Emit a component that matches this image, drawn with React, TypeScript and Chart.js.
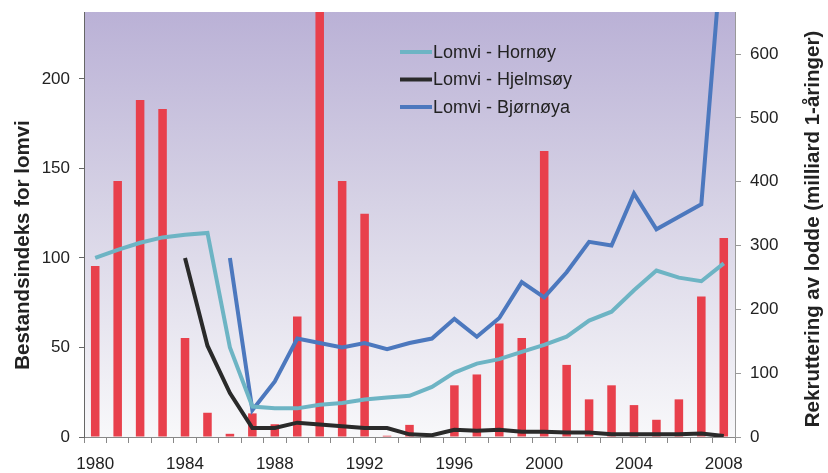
import React, { useEffect, useRef } from 'react';
import { Chart, registerables } from 'chart.js';

Chart.register(...registerables);

const years = ['1980','1981','1982','1983','1984','1985','1986','1987','1988','1989','1990','1991','1992','1993','1994','1995','1996','1997','1998','1999','2000','2001','2002','2003','2004','2005','2006','2007','2008'];
const recruitment = [268, 401, 528, 514, 155, 38, 5, 37, 20, 189, 700, 401, 350, 2, 19, 0, 81, 98, 178, 155, 448, 113, 59, 81, 50, 27, 59, 220, 312];
const hornoy = [100, 104.5, 108.5, 111.5, 113, 114, 50, 17, 16, 16, 18, 19, 21, 22, 23, 28, 36, 41, 43.5, 47.5, 51.5, 56, 65, 70, 82, 93, 89, 87, 97];
const hjelmsoy = [null, null, null, null, 100, 51, 24.5, 5, 5, 8, 7, 6, 5, 5, 1.5, 1, 4, 3.5, 4, 3, 3, 2.5, 2.5, 1.5, 1.5, 1.5, 1.5, 2, 0.5];
const bjornoya = [null, null, null, null, null, null, 100, 15, 31, 55, 52.5, 50, 52.5, 49, 52.5, 55, 66, 56, 66.5, 86.5, 78, 92, 109, 107, 136, 116, 123, 130, 285];
const leftTicks = [0, 50, 100, 150, 200];
const rightTicks = [0, 100, 200, 300, 400, 500, 600];
const leftTitle = 'Bestandsindeks for lomvi';
const rightTitle = 'Rekruttering av lodde (milliard 1-åringer)';
const seriesNames = ['Lomvi - Hornøy', 'Lomvi - Hjelmsøy', 'Lomvi - Bjørnøya'];

const FONT = '"Liberation Sans", Arial, sans-serif';

const decor = {
  id: 'decor',
  beforeDraw(chart: any) {
    const { ctx, chartArea: a } = chart;
    ctx.save();
    const g = ctx.createLinearGradient(0, a.top, 0, a.bottom);
    g.addColorStop(0, '#BAB1D6');
    g.addColorStop(0.45, '#D6D2E5');
    g.addColorStop(1, '#F8F8FA');
    ctx.fillStyle = g;
    ctx.fillRect(a.left, a.top, a.right - a.left, a.bottom - a.top);
    ctx.restore();
  },
  afterDraw(chart: any) {
    const { ctx } = chart;
    ctx.save();
    // legend
    const lineDs = chart.data.datasets.filter((d: any) => d.type === 'line');
    ctx.font = `18px ${FONT}`;
    ctx.textBaseline = 'middle';
    ctx.textAlign = 'left';
    lineDs.forEach((d: any, i: number) => {
      const y = 52 + i * 27.5;
      ctx.strokeStyle = d.borderColor;
      ctx.lineWidth = 4;
      ctx.beginPath();
      ctx.moveTo(400, y);
      ctx.lineTo(432, y);
      ctx.stroke();
      ctx.fillStyle = '#222';
      ctx.fillText(d.label, 433, y + 1);
    });
    // axis titles
    ctx.font = `bold 20.5px ${FONT}`;
    ctx.fillStyle = '#222';
    ctx.textAlign = 'center';
    ctx.textBaseline = 'middle';
    ctx.save();
    ctx.translate(23, 245);
    ctx.rotate(-Math.PI / 2);
    ctx.fillText(leftTitle, 0, 0);
    ctx.restore();
    ctx.save();
    ctx.translate(813, 229);
    ctx.rotate(-Math.PI / 2);
    ctx.fillText(rightTitle, 0, 0);
    ctx.restore();
    ctx.restore();
  },
};

export default function App() {
  const ref = useRef<HTMLCanvasElement>(null);
  useEffect(() => {
    if (!ref.current) return;
    const tickFont = { family: FONT, size: 17 };
    const chart = new Chart(ref.current, {
      type: 'bar',
      data: {
        labels: years,
        datasets: [
          { type: 'line', label: seriesNames[0], data: hornoy, borderColor: '#6DB4C4', borderWidth: 4, pointRadius: 0, yAxisID: 'y', order: 0, tension: 0 } as any,
          { type: 'line', label: seriesNames[1], data: hjelmsoy, borderColor: '#2A2A2A', borderWidth: 4, pointRadius: 0, yAxisID: 'y', order: 0, tension: 0 } as any,
          { type: 'line', label: seriesNames[2], data: bjornoya, borderColor: '#4C78BE', borderWidth: 4, pointRadius: 0, yAxisID: 'y', order: 0, tension: 0 } as any,
          { type: 'bar', label: 'Rekruttering', data: recruitment, backgroundColor: '#E8404C', yAxisID: 'y1', order: 1, barPercentage: 0.38, categoryPercentage: 1 } as any,
        ],
      },
      options: {
        responsive: false,
        animation: false,
        layout: { padding: { top: 12, left: 0, right: 0, bottom: 0 } },
        plugins: { legend: { display: false }, tooltip: { enabled: false } },
        scales: {
          x: {
            offset: true,
            grid: { display: true, drawOnChartArea: false, drawTicks: true, tickLength: 6, offset: true, color: '#888' },
            border: { display: true, color: '#888', width: 1 },
            ticks: {
              autoSkip: false, maxRotation: 0, minRotation: 0, padding: 11, color: '#222', font: tickFont,
              callback: (_v: any, i: number) => (i % 4 === 0 ? years[i] : ''),
            },
            afterFit: (s: any) => { s.height = 36; s.paddingLeft = 0; s.paddingRight = 0; },
          },
          y: {
            position: 'left',
            min: 0, max: 237.4,
            grid: { display: true, drawOnChartArea: false, drawTicks: true, tickLength: 5, color: '#666' },
            border: { display: true, color: '#666', width: 1 },
            ticks: { color: '#222', font: tickFont, padding: 9, stepSize: 50 },
            afterBuildTicks: (s: any) => { s.ticks = leftTicks.map((v) => ({ value: v })); },
            afterFit: (s: any) => { s.width = 84; s.paddingTop = 0; s.paddingBottom = 0; },
          },
          y1: {
            position: 'right',
            min: 0, max: 666,
            grid: { display: true, drawOnChartArea: false, drawTicks: true, tickLength: 6, color: '#999' },
            border: { display: true, color: '#999', width: 1 },
            ticks: { color: '#222', font: tickFont, padding: 9, stepSize: 100 },
            afterBuildTicks: (s: any) => { s.ticks = rightTicks.map((v) => ({ value: v })); },
            afterFit: (s: any) => { s.width = 93; s.paddingTop = 0; s.paddingBottom = 0; },
          },
        },
      } as any,
      plugins: [decor],
    });
    return () => chart.destroy();
  }, []);
  return (
    <div style={{ position: 'absolute', left: 0, top: 0, width: 828, height: 473, background: '#fff' }}>
      <canvas ref={ref} width={828} height={473} style={{ display: 'block' }} />
    </div>
  );
}
